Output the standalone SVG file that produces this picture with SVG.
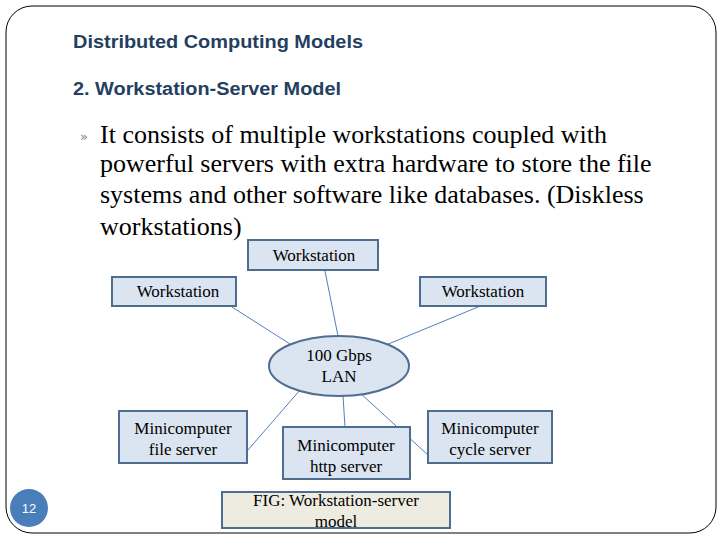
<svg xmlns="http://www.w3.org/2000/svg" width="720" height="540" viewBox="0 0 720 540">
<style>
.h{font-family:"Liberation Sans",Arial,sans-serif;font-weight:bold;font-size:18px;fill:#243f60}
.b{font-family:"Liberation Serif","Times New Roman",serif;font-size:26px;fill:#000}
.n{font-family:"Liberation Serif","Times New Roman",serif;font-size:17px;fill:#000;text-anchor:middle}
.box{fill:#dbe5f1;stroke:#4f6e8f;stroke-width:2}
.ln{stroke:#4f81bd;stroke-width:1;fill:none}
</style>
<rect x="0" y="0" width="720" height="540" fill="#fff"/>
<rect x="6" y="6" width="710" height="527" rx="26" fill="#fff" stroke="#000" stroke-width="1"/>
<text class="h" x="73" y="48" textLength="290" lengthAdjust="spacingAndGlyphs">Distributed Computing Models</text>
<text class="h" x="73" y="95" textLength="268" lengthAdjust="spacingAndGlyphs">2. Workstation-Server Model</text>
<text x="80" y="141" font-family="DejaVu Sans,sans-serif" font-size="13" fill="#7f7f7f">»</text>
<text class="b" x="100" y="143">It consists of multiple workstations coupled with</text>
<text class="b" x="100" y="172">powerful servers with extra hardware to store the file</text>
<text class="b" x="100" y="203">systems and other software like databases. (Diskless</text>
<text class="b" x="100" y="235">workstations)</text>
<g id="connectors">
<line class="ln" x1="325" y1="271" x2="338" y2="336"/>
<line class="ln" x1="232" y1="307" x2="290" y2="344"/>
<line class="ln" x1="478" y1="307" x2="386" y2="345"/>
<line class="ln" x1="300" y1="390" x2="248" y2="450"/>
<line class="ln" x1="343" y1="396" x2="345" y2="427"/>
<line class="ln" x1="360" y1="393" x2="428" y2="455"/>
</g>
<g id="ws-top"><rect class="box" x="248" y="240" width="130" height="30"/><text class="n" x="314" y="261">Workstation</text></g>
<g id="ws-left"><rect class="box" x="112" y="277" width="124" height="29"/><text class="n" x="178" y="297">Workstation</text></g>
<g id="ws-right"><rect class="box" x="420" y="277" width="126" height="29"/><text class="n" x="483" y="297">Workstation</text></g>
<g id="lan"><ellipse cx="339" cy="366" rx="70" ry="30" fill="#dbe5f1" stroke="#4f6e8f" stroke-width="2"/><text class="n" x="339" y="361">100 Gbps</text><text class="n" x="339" y="382">LAN</text></g>
<g id="file"><rect class="box" x="119" y="411" width="128" height="52"/><text class="n" x="183" y="434">Minicomputer</text><text class="n" x="183" y="455">file server</text></g>
<g id="http"><rect class="box" x="283" y="427" width="127" height="52"/><text class="n" x="346" y="451">Minicomputer</text><text class="n" x="346" y="472">http server</text></g>
<g id="cycle"><rect class="box" x="428" y="411" width="124" height="52"/><text class="n" x="490" y="434">Minicomputer</text><text class="n" x="490" y="455">cycle server</text></g>
<g id="fig"><rect x="222" y="492" width="228" height="36" fill="#eeece1" stroke="#4f6e8f" stroke-width="2"/><text class="n" x="336" y="506">FIG: Workstation-server</text><text class="n" x="336" y="527">model</text></g>
<circle cx="29" cy="508" r="19" fill="#4a7ebb"/>
<text x="29" y="513" text-anchor="middle" font-family="Liberation Sans,sans-serif" font-size="13" fill="#fff">12</text>
</svg>
